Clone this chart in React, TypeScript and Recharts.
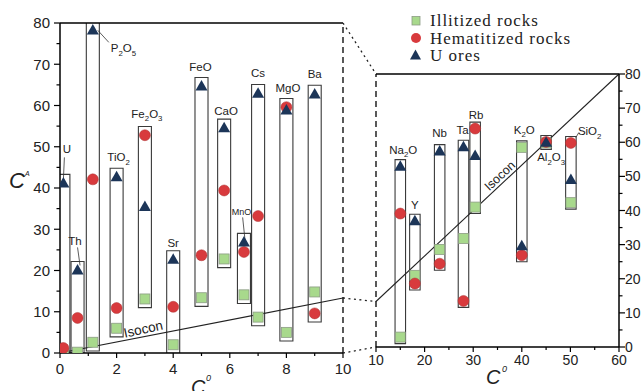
import React from 'react';
import {ComposedChart, ReferenceArea, ReferenceDot, ReferenceLine, Scatter, XAxis, YAxis} from 'recharts';

// left panel, C0 from 0 to 10
const leftNames = ['U', 'Th', 'P2O5', 'TiO2', 'Fe2O3', 'Sr', 'FeO', 'CaO', 'MnO', 'Cs', 'MgO', 'Ba'];
const leftC0 = [0.12, 0.62, 1.16, 2.0, 3.0, 4.0, 5.0, 5.8, 6.5, 7.0, 8.0, 9.0];
const leftIllitized = [0, 0.2, 2.6, 6.0, 13.1, 2.0, 13.4, 22.8, 14.1, 8.7, 5.0, 14.8];
const leftHematitized = [1.2, 8.5, 42.1, 10.9, 52.8, 11.2, 23.7, 39.4, 24.5, 33.2, 59.6, 9.6];
const leftUOres = [41.2, 20.1, 78.3, 42.7, 35.5, 22.7, 64.7, 54.6, 26.9, 63.0, 58.9, 62.8];

// right panel, C0 from 10 to 60
const rightNames = ['Na2O', 'Y', 'Nb', 'Ta', 'Rb', 'K2O', 'Al2O3', 'SiO2'];
const rightC0 = [15.0, 18.0, 23.1, 28.0, 30.4, 40.0, 45.0, 50.1];
const rightIllitized = [2.9, 21.0, 28.6, 31.8, 41.0, 58.5, 59.8, 42.3];
const rightHematitized = [39.1, 18.6, 24.4, 13.5, 64.0, 26.9, 60.1, 59.8];
const rightUOres = [53.0, 37.0, 57.4, 58.7, 56.1, 29.7, 60.0, 49.1];

const isoconSlope = 80 / 60;

const leftXTicks = [0, 1, 2, 3, 4, 5, 6, 7, 8, 9, 10];
const rightXTicks = [10, 15, 20, 25, 30, 35, 40, 45, 50, 55, 60];
const yTicks = [0, 5, 10, 15, 20, 25, 30, 35, 40, 45, 50, 55, 60, 65, 70, 75, 80];

// label placement relative to box top (pixels)
type LabelPos = {dx: number; dy: number; anchor?: 'start' | 'middle'; size?: number; leader?: number[]};
const leftLabelPos: LabelPos[] = [
  {dx: 3.5, dy: -21, leader: [1, -17, 0, 5]},
  {dx: -2.5, dy: -16, leader: [0, -14, 2.5, 4]},
  {dx: 18, dy: 31, anchor: 'start', leader: [5, 9, 16, 21]},
  {dx: 2, dy: -7},
  {dx: 2, dy: -9},
  {dx: 0, dy: -4},
  {dx: -1, dy: -6},
  {dx: 2, dy: -4.5},
  {dx: -2.5, dy: -18, size: 9, leader: [-1.3, -16, 1, 6]},
  {dx: 0, dy: -7},
  {dx: 1.5, dy: -6},
  {dx: 0, dy: -7},
];
const rightLabelPos: LabelPos[] = [
  {dx: 3, dy: -6},
  {dx: 0, dy: -5.5},
  {dx: 0, dy: -8},
  {dx: -1, dy: -6},
  {dx: 1, dy: -3},
  {dx: 2.5, dy: -7},
  {dx: 5, dy: 26},
  {dx: 7, dy: -1, anchor: 'start', leader: [5, 1, 8, -4]},
];

const L = {left: 60, right: 343, top: 23, bottom: 353};
const R = {left: 376, right: 619, top: 74, bottom: 347};
const leftY = (v: number) => L.bottom - (v / 80) * (L.bottom - L.top);
const rightY = (v: number) => R.bottom - (v / 80) * (R.bottom - R.top);

const GREEN = '#a8d98c';
const RED = '#d83a3d';
const NAVY = '#1c3558';

const Square = (p: any) => (
  <rect x={p.cx - 5} y={p.cy - 5} width={10} height={10} fill={GREEN} stroke="#8c9c84" strokeWidth={0.8} />
);
const Dot = (p: any) => <circle cx={p.cx} cy={p.cy} r={5.5} fill={RED} stroke="#a33" strokeWidth={0.5} />;
const Tri = (p: any) => (
  <polygon points={`${p.cx},${p.cy - 6} ${p.cx + 6},${p.cy + 4.5} ${p.cx - 6},${p.cy + 4.5}`} fill={NAVY} />
);

function chemText(name: string, fs: number) {
  const parts = name.match(/[A-Za-z]+|\d+/g) || [];
  let down = false;
  return parts.map((p, i) => {
    if (/\d/.test(p)) {
      down = true;
      return <tspan key={i} fontSize={fs * 0.68} dy={fs * 0.3}>{p}</tspan>;
    }
    const dy = down ? -fs * 0.3 : 0;
    down = false;
    return <tspan key={i} dy={dy}>{p}</tspan>;
  });
}

const makeLabel = (name: string, pos: LabelPos) => (props: any) => {
  const {cx, cy} = props;
  const fs = pos.size ?? 11.5;
  return (
    <g>
      {pos.leader && (
        <line x1={cx + pos.leader[0]} y1={cy + pos.leader[1]} x2={cx + pos.leader[2]} y2={cy + pos.leader[3]}
              stroke="#333" strokeWidth={0.8} />
      )}
      <text x={cx + pos.dx} y={cy + pos.dy} textAnchor={pos.anchor ?? 'middle'} fontSize={fs} fill="#222">
        {chemText(name, fs)}
      </text>
    </g>
  );
};

const isoconLabel = (angle: number, size: number) => (props: any) => {
  const {cx, cy} = props;
  return (
    <text x={cx} y={cy - 3} fontSize={size} fill="#222" textAnchor="middle" transform={`rotate(${angle}, ${cx}, ${cy})`}>
      Isocon
    </text>
  );
};

const makeYTick = (side: 'left' | 'right', fs: number) => (props: any) => {
  const {x, y, payload} = props;
  const major = payload.value % 10 === 0;
  const len = major ? 6 : 3.5;
  const s = side === 'left' ? -1 : 1;
  return (
    <g>
      <line x1={x} x2={x + s * len} y1={y} y2={y} stroke="#000" strokeWidth={1.2} />
      {major && (
        <text x={x + s * (side === 'left' ? 10 : 6)} y={y} dy="0.36em" textAnchor={side === 'left' ? 'end' : 'start'}
              fontSize={fs} fill="#222">
          {payload.value}
        </text>
      )}
    </g>
  );
};

const makeXTick = (fs: number, off: number, step: number) => (props: any) => {
  const {x, y, payload} = props;
  const major = payload.value % step === 0;
  return (
    <g>
      <line x1={x} x2={x} y1={y} y2={y + (major ? 5 : 3)} stroke="#000" strokeWidth={1.2} />
      {major && (
        <text x={x} y={y + off} textAnchor="middle" fontSize={fs} fill="#222">{payload.value}</text>
      )}
    </g>
  );
};

function pts(c0: number[], vals: number[]) {
  return c0.map((x, i) => ({x, y: vals[i]}));
}

function Panel({names, c0, ill, hem, uo, pos, halfW, pad}: any) {
  return [
    ...c0.map((x: number, i: number) => {
      const lo = Math.min(ill[i], hem[i], uo[i]) - pad;
      const hi = Math.max(ill[i], hem[i], uo[i]) + pad;
      return (
        <ReferenceArea key={'b' + i} x1={x - halfW} x2={x + halfW} y1={lo} y2={hi} fill="none" fillOpacity={0}
                       stroke="#3a3a3a" strokeWidth={1.1} ifOverflow="hidden" />
      );
    }),
    ...c0.map((x: number, i: number) => {
      const hi = Math.max(ill[i], hem[i], uo[i]) + pad;
      return <ReferenceDot key={'l' + i} x={x} y={hi} r={0} ifOverflow="visible" shape={makeLabel(names[i], pos[i])} />;
    }),
  ];
}

function LeftChart() {
  return (
    <ComposedChart width={360} height={391} margin={{top: 23, right: 17, bottom: 8, left: 0}}>
      <XAxis type="number" dataKey="x" domain={[0, 10]} ticks={leftXTicks} interval={0} allowDataOverflow
             tickSize={0} tickMargin={0} tickLine={false} axisLine={{stroke: '#000', strokeWidth: 1.5}}
             tick={makeXTick(15, 21, 2)} height={30} />
      <YAxis type="number" dataKey="y" domain={[0, 80]} ticks={yTicks} interval={0} allowDataOverflow width={60}
             tickSize={0} tickMargin={0} tickLine={false} axisLine={{stroke: '#000', strokeWidth: 1.5}}
             tick={makeYTick('left', 15)} />
      <ReferenceLine y={80} stroke="#000" strokeWidth={1.5} />
      <ReferenceLine x={10} stroke="#000" strokeWidth={1.3} strokeDasharray="6 4" />
      <ReferenceLine segment={[{x: 0, y: 0}, {x: 10, y: isoconSlope * 10}]} stroke="#222" strokeWidth={1.2} />
      {Panel({names: leftNames, c0: leftC0, ill: leftIllitized, hem: leftHematitized, uo: leftUOres,
        pos: leftLabelPos, halfW: 0.23, pad: 2.1})}
      <ReferenceDot x={3} y={isoconSlope * 3} r={0} ifOverflow="visible" shape={isoconLabel(-12, 13.5)} />
      <Scatter data={pts(leftC0, leftIllitized)} dataKey="y" shape={Square} isAnimationActive={false} />
      <Scatter data={pts(leftC0, leftHematitized)} dataKey="y" shape={Dot} isAnimationActive={false} />
      <Scatter data={pts(leftC0, leftUOres)} dataKey="y" shape={Tri} isAnimationActive={false} />
    </ComposedChart>
  );
}

function RightChart() {
  return (
    <ComposedChart width={298} height={391} margin={{top: 74, right: 0, bottom: 14, left: 33}}>
      <XAxis type="number" dataKey="x" domain={[10, 60]} ticks={rightXTicks} interval={0} allowDataOverflow
             tickSize={0} tickMargin={0} tickLine={false} axisLine={{stroke: '#000', strokeWidth: 1.5}}
             tick={makeXTick(14, 18, 10)} height={30} />
      <YAxis type="number" dataKey="y" orientation="right" domain={[0, 80]} ticks={yTicks} interval={0}
             allowDataOverflow width={22} tickSize={0} tickMargin={0} tickLine={false}
             axisLine={{stroke: '#000', strokeWidth: 1.5}} tick={makeYTick('right', 14)} />
      <ReferenceLine y={80} stroke="#000" strokeWidth={1.5} />
      <ReferenceLine x={10} stroke="#000" strokeWidth={1.3} strokeDasharray="6 4" />
      <ReferenceLine segment={[{x: 10, y: isoconSlope * 10}, {x: 60, y: 80}]} stroke="#222" strokeWidth={1.1} />
      {Panel({names: rightNames, c0: rightC0, ill: rightIllitized, hem: rightHematitized, uo: rightUOres,
        pos: rightLabelPos, halfW: 1.08, pad: 1.9})}
      <ReferenceDot x={36.5} y={isoconSlope * 36.5} r={0} ifOverflow="visible" shape={isoconLabel(-43, 12.5)} />
      <Scatter data={pts(rightC0, rightIllitized)} dataKey="y" shape={Square} isAnimationActive={false} />
      <Scatter data={pts(rightC0, rightHematitized)} dataKey="y" shape={Dot} isAnimationActive={false} />
      <Scatter data={pts(rightC0, rightUOres)} dataKey="y" shape={Tri} isAnimationActive={false} />
    </ComposedChart>
  );
}

function Overlay() {
  const iso = isoconSlope * 10;
  const legendFont = {fontFamily: '"Liberation Serif", "Times New Roman", serif', fontSize: 17, letterSpacing: 1.0};
  return (
    <svg width={641} height={391} style={{position: 'absolute', left: 0, top: 0, pointerEvents: 'none'}}>
      {[80, iso, 0].map((v, i) => (
        <line key={i} x1={L.right} y1={leftY(v)} x2={R.left} y2={rightY(v)} stroke="#222" strokeWidth={1.3}
              strokeDasharray="2 3.5" />
      ))}
      {/* axis titles */}
      <text x={9} y={188} fontSize={22} fontStyle="italic" fill="#222">C</text>
      <text x={25} y={176} fontSize={7} fontStyle="italic" fill="#222">A</text>
      <text x={191} y={394} fontSize={20} fontStyle="italic" fill="#222">C</text>
      <text x={206} y={381} fontSize={9} fontStyle="italic" fill="#222">0</text>
      <text x={486} y={384} fontSize={20} fontStyle="italic" fill="#222">C</text>
      <text x={502} y={372} fontSize={9} fontStyle="italic" fill="#222">0</text>
      {/* legend */}
      <rect x={412} y={16.5} width={8} height={8.5} fill={GREEN} stroke="#8c9c84" strokeWidth={0.8} />
      <circle cx={416} cy={38} r={5} fill={RED} />
      <polygon points="415.5,49.5 421,59.5 410,59.5" fill={NAVY} />
      <text x={430} y={26} fill="#222" style={legendFont}>Illitized rocks</text>
      <text x={430} y={43.5} fill="#222" style={legendFont}>Hematitized rocks</text>
      <text x={430} y={60.5} fill="#222" style={legendFont}>U ores</text>
    </svg>
  );
}

export default function App() {
  return (
    <div style={{position: 'absolute', left: 0, top: 0, width: 641, height: 391, overflow: 'hidden', background: '#fff',
      fontFamily: '"Liberation Sans", Arial, sans-serif'}}>
      <div style={{position: 'absolute', left: 0, top: 0}}>
        <LeftChart />
      </div>
      <div style={{position: 'absolute', left: 343, top: 0}}>
        <RightChart />
      </div>
      <Overlay />
    </div>
  );
}
